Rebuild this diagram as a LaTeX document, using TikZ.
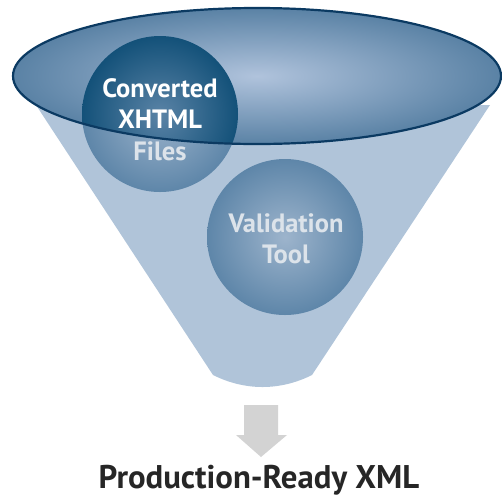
\documentclass[tikz,border=0pt]{standalone}
\usepackage{fontspec}
\setmainfont{PT Sans}
\definecolor{funnelc}{HTML}{B0C4D9}
\definecolor{ellin}{HTML}{B0C3DC}
\definecolor{ellout}{HTML}{5A82A5}
\definecolor{rimc}{HTML}{0B3A62}
\definecolor{cin}{HTML}{9DB4CC}
\definecolor{cout}{HTML}{5E86A9}
\definecolor{dkin}{HTML}{5A83A6}
\definecolor{dkout}{HTML}{135179}
\definecolor{softtext}{HTML}{DCE3EA}
\definecolor{arrowc}{HTML}{D3D3D3}
\tikzset{
  circtext/.style={font=\bfseries\fontsize{26.5}{30}\selectfont, anchor=base},
  titletext/.style={font=\bfseries\fontsize{32.8}{36}\selectfont, anchor=base, text=black!85}
}
\begin{document}
\begin{tikzpicture}[x=1pt,y=-1pt]
\useasboundingbox (0,0) rectangle (502,499);
% funnel body
\fill[funnelc] (36,105) -- (213,375) .. controls (245,391) and (280,391) .. (312,375) -- (490,105) -- cycle;
% lower circle
\shade[inner color=cin, outer color=cout] (285,237) circle (78);
% upper circle (part outside rim)
\shade[inner color=cin, outer color=cout] (160,114) circle (78);
% rim of funnel
\shade[inner color=ellin, outer color=ellout] (257,76) ellipse (244 and 68);
% upper circle (part inside rim)
\begin{scope}
  \clip (257,76) ellipse (244 and 68);
  \shade[inner color=dkin, outer color=dkout] (160,114) circle (78);
\end{scope}
\draw[rimc, line width=2.2pt] (257,76) ellipse (244 and 68);
% texts
\node[circtext, text=white] (l1) at (160,97) {Converted};
\node[circtext, text=white] (l2) at (160,128) {XHTML};
\node[circtext, text=softtext] (l3) at (160,160) {Files};
\node[circtext, text=softtext] (v1) at (286,232) {Validation};
\node[circtext, text=softtext] (v2) at (286,263) {Tool};
% arrow
\fill[arrowc] (244,405) -- (278,405) -- (278,435) -- (287,435) -- (261,457) -- (236,435) -- (244,435) -- cycle;
\node[titletext] (out) at (259,488) {Production-Ready XML};
\end{tikzpicture}
\end{document}
